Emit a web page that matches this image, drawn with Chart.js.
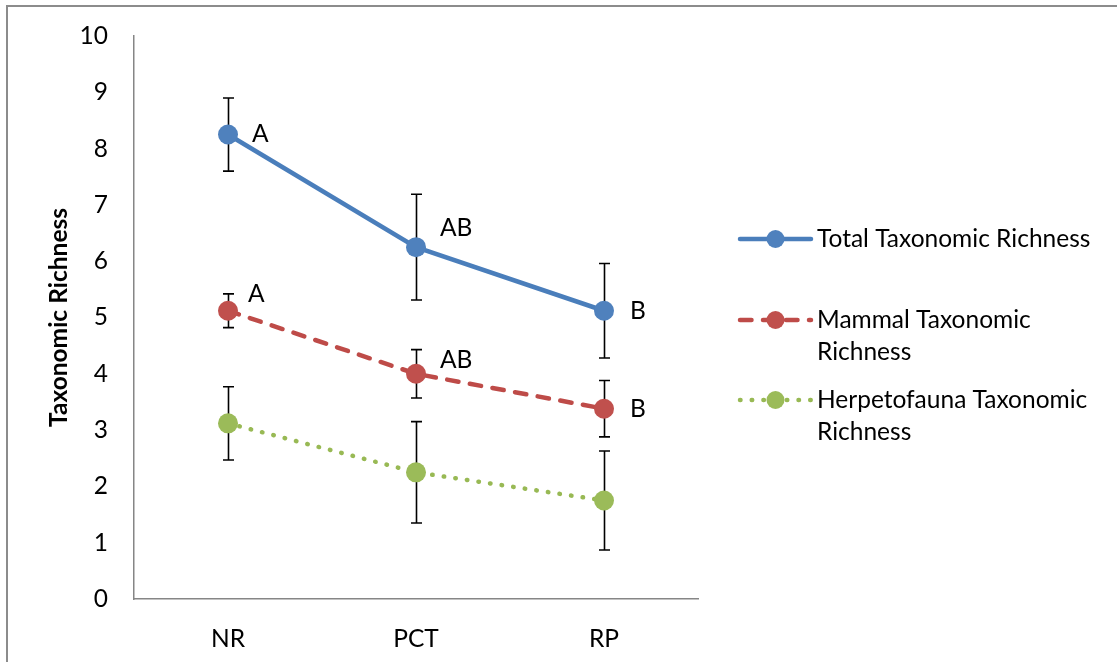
<!DOCTYPE html>
<html>
<head>
<meta charset="utf-8">
<script src="https://cdn.jsdelivr.net/npm/chart.js@4.4.1/dist/chart.umd.min.js"></script>
<style>
  html, body { margin: 0; padding: 0; background: #ffffff; }
  #wrap { width: 1117px; height: 662px; position: relative; }
</style>
</head>
<body>
<div id="wrap"><canvas id="chart" width="1117" height="662"></canvas></div>
<script>
// Sites (x categories)
const sites = ['NR', 'PCT', 'RP'];

// Mean taxonomic richness per site and the error-bar half-widths
const totalRichness  = [8.25, 6.25, 5.12];
const totalError     = [0.65, 0.94, 0.84];
const mammalRichness = [5.12, 4.00, 3.38];
const mammalError    = [0.30, 0.43, 0.50];
const herpRichness   = [3.12, 2.25, 1.75];
const herpError      = [0.65, 0.90, 0.88];

// Significance letters (herpetofauna has none)
const totalLetters  = ['A', 'AB', 'B'];
const mammalLetters = ['A', 'AB', 'B'];

// Y axis range / step
const yMin = 0, yMax = 10, yStep = 1;

const FONT_FAMILY = 'Lato, "Open Sans", sans-serif';
const FONT_SIZE = 24.5;

// Where each letter sits relative to its marker (pixels)
const letterOffsets = [
  [[24, 0], [24, -19], [26, 0]],
  [[20, -17], [24, -14], [26, 0]],
  [[0, 0], [0, 0], [0, 0]]
];

// Outer frame of the chart
const framePlugin = {
  id: 'frame',
  beforeDraw(chart) {
    const ctx = chart.ctx;
    ctx.save();
    ctx.fillStyle = '#ffffff';
    ctx.fillRect(0, 0, chart.width, chart.height);
    ctx.strokeStyle = '#8c8c8c';
    ctx.lineWidth = 2;
    ctx.beginPath();
    ctx.moveTo(7, chart.height);
    ctx.lineTo(7, 6);
    ctx.lineTo(chart.width, 6);
    ctx.stroke();
    ctx.restore();
  }
};

// Vertical error bars with caps, drawn beneath the lines and markers
const errorBarPlugin = {
  id: 'errorBars',
  beforeDatasetsDraw(chart) {
    const ctx = chart.ctx;
    const yScale = chart.scales.y;
    ctx.save();
    ctx.strokeStyle = '#000000';
    ctx.lineWidth = 1.6;
    chart.data.datasets.forEach((ds, i) => {
      const meta = chart.getDatasetMeta(i);
      meta.data.forEach((pt, j) => {
        const v = ds.data[j], e = ds.errors[j];
        const x = Math.round(pt.x) + 0.5;
        const yTop = yScale.getPixelForValue(v + e);
        const yBot = yScale.getPixelForValue(v - e);
        const cap = 5.5;
        ctx.beginPath();
        ctx.moveTo(x, yTop); ctx.lineTo(x, yBot);
        ctx.moveTo(x - cap, yTop); ctx.lineTo(x + cap, yTop);
        ctx.moveTo(x - cap, yBot); ctx.lineTo(x + cap, yBot);
        ctx.stroke();
      });
    });
    ctx.restore();
  }
};

// Significance letters beside the markers
const letterPlugin = {
  id: 'letters',
  afterDatasetsDraw(chart) {
    const ctx = chart.ctx;
    ctx.save();
    ctx.font = FONT_SIZE + 'px ' + FONT_FAMILY;
    ctx.fillStyle = '#000000';
    ctx.textAlign = 'left';
    ctx.textBaseline = 'middle';
    chart.data.datasets.forEach((ds, i) => {
      if (!ds.letters) return;
      const meta = chart.getDatasetMeta(i);
      meta.data.forEach((pt, j) => {
        const off = letterOffsets[i][j];
        ctx.fillText(ds.letters[j], pt.x + off[0], pt.y + off[1]);
      });
    });
    ctx.restore();
  }
};

// Legend on the right with wrapped series names
const sideLegendPlugin = {
  id: 'sideLegend',
  afterDraw(chart) {
    const ctx = chart.ctx;
    const rows = [239, 320, 400];
    const lineStep = 32;
    const x0 = 740, x1 = 811, tx = 817, maxW = 282;
    ctx.save();
    ctx.font = FONT_SIZE + 'px ' + FONT_FAMILY;
    chart.data.datasets.forEach((ds, i) => {
      const y = rows[i];
      ctx.strokeStyle = ds.borderColor;
      ctx.lineWidth = ds.borderWidth;
      ctx.lineCap = 'round';
      ctx.setLineDash(ds.borderDash || []);
      ctx.beginPath();
      ctx.moveTo(x0, y); ctx.lineTo(x1, y);
      ctx.stroke();
      ctx.setLineDash([]);
      ctx.fillStyle = ds.pointBackgroundColor;
      ctx.beginPath();
      ctx.arc((x0 + x1) / 2, y, 9, 0, Math.PI * 2);
      ctx.fill();

      // wrap text by words
      const words = ds.label.split(' ');
      const lines = [];
      let cur = '';
      words.forEach(w => {
        const t = cur ? cur + ' ' + w : w;
        if (ctx.measureText(t).width > maxW && cur) { lines.push(cur); cur = w; }
        else cur = t;
      });
      lines.push(cur);
      ctx.fillStyle = '#000000';
      ctx.textAlign = 'left';
      ctx.textBaseline = 'middle';
      lines.forEach((ln, k) => ctx.fillText(ln, tx, y + k * lineStep));
    });
    ctx.restore();
  }
};

const tickFont = { family: FONT_FAMILY, size: FONT_SIZE };

new Chart(document.getElementById('chart').getContext('2d'), {
  type: 'line',
  data: {
    labels: sites,
    datasets: [
      {
        label: 'Total Taxonomic Richness',
        data: totalRichness,
        errors: totalError,
        letters: totalLetters,
        borderColor: '#4A7EBB',
        borderWidth: 4.5,
        borderCapStyle: 'round',
        pointRadius: 10,
        pointBorderWidth: 0,
        pointBackgroundColor: '#4F81BD',
        pointBorderColor: '#4F81BD',
        tension: 0
      },
      {
        label: 'Mammal Taxonomic Richness',
        data: mammalRichness,
        errors: mammalError,
        letters: mammalLetters,
        borderColor: '#BE4B48',
        borderWidth: 4.5,
        borderDash: [11.5, 11.5],
        borderCapStyle: 'round',
        pointRadius: 10,
        pointBorderWidth: 0,
        pointBackgroundColor: '#C0504D',
        pointBorderColor: '#C0504D',
        tension: 0
      },
      {
        label: 'Herpetofauna Taxonomic Richness',
        data: herpRichness,
        errors: herpError,
        borderColor: '#98B954',
        borderWidth: 4.5,
        borderDash: [0.5, 11.2],
        borderCapStyle: 'round',
        pointRadius: 10,
        pointBorderWidth: 0,
        pointBackgroundColor: '#9BBB59',
        pointBorderColor: '#9BBB59',
        tension: 0
      }
    ]
  },
  options: {
    responsive: false,
    animation: false,
    events: [],
    layout: { padding: { left: 0, top: 36, right: 419, bottom: 0 } },
    plugins: {
      legend: { display: false },
      tooltip: { enabled: false }
    },
    scales: {
      x: {
        offset: true,
        grid: { display: false, drawTicks: false },
        border: { display: true, color: '#868686', width: 1.5 },
        ticks: { font: tickFont, color: '#000000', padding: 25 },
        afterFit(scale) { scale.height = 63; }
      },
      y: {
        min: yMin,
        max: yMax,
        grid: { display: false, drawTicks: false },
        border: { display: true, color: '#868686', width: 1.5 },
        ticks: { stepSize: yStep, font: tickFont, color: '#000000', padding: 26 },
        title: {
          display: true,
          text: 'Taxonomic Richness',
          color: '#000000',
          font: { family: FONT_FAMILY, size: FONT_SIZE, weight: 'bold' },
          padding: { top: 44, bottom: 0 }
        },
        afterFit(scale) {
          scale.width = 134;
          scale.paddingTop = 0;
          scale.paddingBottom = 0;
        }
      }
    }
  },
  plugins: [framePlugin, errorBarPlugin, letterPlugin, sideLegendPlugin]
});
</script>
</body>
</html>
